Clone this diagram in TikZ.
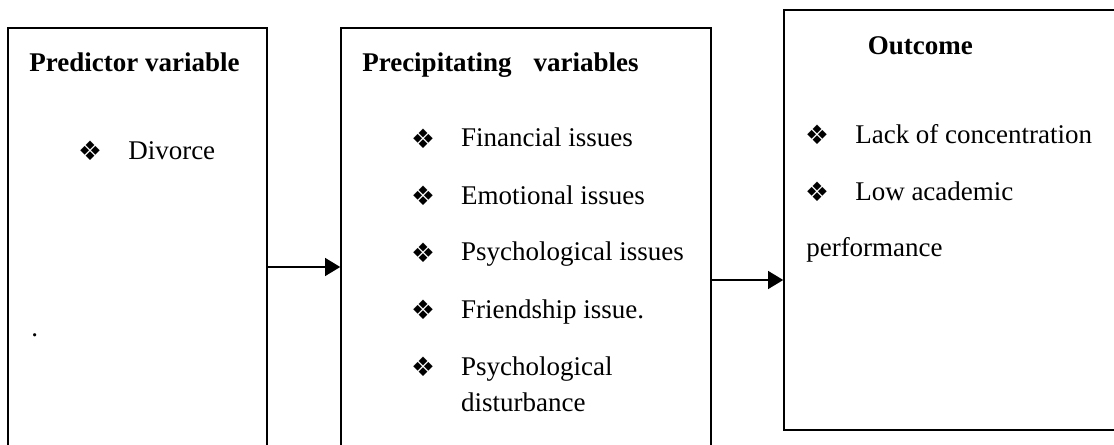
\documentclass[tikz,border=0pt]{standalone}
\usepackage{fontspec}
\setmainfont{Liberation Serif}
\newfontfamily\dingfont{DejaVu Sans}
\usepackage{tikz}
\usetikzlibrary{arrows.meta,calc,positioning}
\newcommand{\dia}{{\dingfont\fontsize{19}{19}\selectfont\symbol{"2756}}}
\tikzset{
  varbox/.style={draw, line width=1.1pt, inner sep=0pt},
  txt/.style={inner sep=0pt, anchor=base west, font=\fontsize{19.2}{23}\selectfont},
  hd/.style={txt, font=\fontsize{19.2}{23}\selectfont\bfseries},
  bul/.style={inner sep=0pt},
  link/.style={-{Triangle[length=0.38cm,width=0.45cm]}, line width=1.1pt}
}

\begin{document}
\begin{tikzpicture}
				\useasboundingbox (0,0) rectangle (27.85,11.1);
				\clip (0,0) rectangle (27.85,11.1);
				\node[varbox, minimum width=6.475cm, minimum height=10.8cm] (pred) at (3.4375,5.0) {};
				\node[varbox, minimum width=9.25cm, minimum height=10.8cm] (prec) at (13.15,5.0) {};
				\node[varbox, minimum width=8.525cm, minimum height=10.5cm] (outc) at (23.8625,5.6) {};
				\coordinate (a1) at ([yshift=-0.575cm]pred.east);
				\coordinate (a2) at ([yshift=-0.9cm]prec.east);
				\draw[link] (a1) to (a1 -| prec.west);
				\draw[link] (a2) to (a2 -| outc.west);
				\node[hd] (predh) at (0.73,9.325) {Predictor variable}; %box 1
				\node[bul] (b11) at (2.25,7.33) {\dia};
				\node[txt] (div) at (3.2,7.125) {Divorce};
				\node[txt] (dot) at (0.78,2.7) {.};
				\node[hd] (prech) at (9.05,9.325) {Precipitating\hspace{0.55cm}variables}; %box 2
				\node[bul] (b21) at (10.58,7.64) {\dia};
				\node[txt] (fin) at (11.52,7.433) {Financial issues};
				\node[bul] (b22) at (10.58,6.21) {\dia};
				\node[txt] (emo) at (11.52,6.0) {Emotional issues};
				\node[bul] (b23) at (10.58,4.79) {\dia};
				\node[txt] (psy) at (11.52,4.583) {Psychological issues};
				\node[bul] (b24) at (10.58,3.35) {\dia};
				\node[txt] (fri) at (11.52,3.142) {Friendship issue.};
				\node[bul] (b25) at (10.58,1.93) {\dia};
				\node[txt] (dis1) at (11.52,1.725) {Psychological};
				\node[txt] (dis2) at (11.52,0.808) {disturbance};
				\node[hd] (outh) at (21.69,9.74) {Outcome}; %box 3
				\node[bul] (b31) at (20.43,7.72) {\dia};
				\node[txt] (lack) at (21.375,7.517) {Lack of concentration};
				\node[bul] (b32) at (20.43,6.31) {\dia};
				\node[txt] (low) at (21.375,6.1) {Low academic};
				\node[txt] (perf) at (20.15,4.683) {performance};
	\end{tikzpicture}
\end{document}
